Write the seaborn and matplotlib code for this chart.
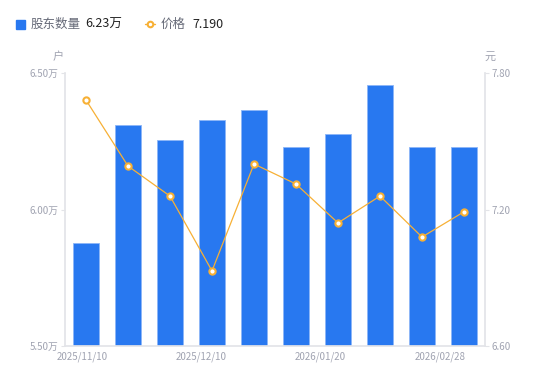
import numpy as np
import pandas as pd
import matplotlib
matplotlib.use("Agg")
import matplotlib.pyplot as plt
import seaborn as sns
from matplotlib.lines import Line2D

dates = ["2025/11/10", "2025/11/20", "2025/11/28", "2025/12/10", "2025/12/19",
         "2025/12/31", "2026/01/20", "2026/01/30", "2026/02/10", "2026/02/28"]
holders = [5.877, 6.310, 6.255, 6.328, 6.364, 6.229, 6.277, 6.456, 6.229, 6.229]  # 万户
price = [7.681, 7.391, 7.259, 6.930, 7.400, 7.312, 7.141, 7.259, 7.079, 7.190]
shown_dates = ["2025/11/10", "2025/12/10", "2026/01/20", "2026/02/28"]

df = pd.DataFrame({"date": dates, "holders": holders, "price": price})

sns.set_theme(style="white")
plt.rcParams["font.family"] = ["Noto Sans CJK SC", "DejaVu Sans"]

blue = "#2878F0"
orange = "#F7B035"
grey = "#A0A3B1"
axis_col = "#E3E4E8"

fig = plt.figure(figsize=(5.5, 3.81), dpi=100)
ax1 = fig.add_axes([65 / 550, 35 / 381, 420 / 550, 273 / 381])

sns.barplot(data=df, x="date", y="holders", color=blue, width=0.6,
            edgecolor="#8DB6F7", linewidth=0.6, saturation=1, ax=ax1)
ax1.set_ylim(5.5, 6.5)
ax1.set_xlim(-0.5, len(dates) - 0.5)

ax2 = ax1.twinx()
sns.lineplot(x=np.arange(len(price)), y=price, color=orange, linewidth=0.9,
             marker="o", markersize=4.5, markerfacecolor="white",
             markeredgecolor=orange, markeredgewidth=1.5, ax=ax2)
ax2.set_ylim(6.6, 7.8)

ax1.set_yticks([5.5, 6.0, 6.5])
ax1.set_yticklabels([f"{v:.2f}万" for v in [5.5, 6.0, 6.5]])
ax2.set_yticks([6.6, 7.2, 7.8])
ax2.set_yticklabels([f"{v:.2f}" for v in [6.6, 7.2, 7.8]])

ax1.set_xticks(np.linspace(-0.1, 8.43, len(shown_dates)))
ax1.set_xticklabels(shown_dates)

for ax in (ax1, ax2):
    ax.set_xlabel("")
    ax.set_ylabel("")
    ax.grid(False)
    for s in ax.spines.values():
        s.set_visible(False)
    ax.tick_params(axis="y", colors=axis_col, labelcolor=grey, labelsize=7,
                   length=3, width=0.8, pad=2)
ax1.spines["left"].set_visible(True)
ax1.spines["left"].set_color(axis_col)
ax1.spines["bottom"].set_visible(True)
ax1.spines["bottom"].set_color(axis_col)
ax2.spines["right"].set_visible(True)
ax2.spines["right"].set_color(axis_col)
ax1.tick_params(axis="x", length=0, labelcolor=grey, labelsize=7, pad=4)

fig.text(58 / 550, 1 - 57 / 381, "户", color=grey, fontsize=8, ha="center", va="center")
fig.text(490 / 550, 1 - 57 / 381, "元", color=grey, fontsize=8, ha="center", va="center")

# legend
sq = plt.Rectangle((16 / 550, 1 - 29 / 381), 9 / 550, 9 / 381, color=blue,
                   transform=fig.transFigure, figure=fig)
fig.patches.append(sq)
fig.text(31 / 550, 1 - 24 / 381, "股东数量", color="#666A78", fontsize=9, va="center")
fig.text(85 / 550, 1 - 24 / 381, f"{holders[-1]:.2f}万", color="#222222", fontsize=9, va="center")
fig.add_artist(Line2D([145 / 550, 155 / 550], [1 - 24 / 381] * 2, color=orange,
                      linewidth=1, transform=fig.transFigure))
fig.add_artist(Line2D([150 / 550], [1 - 24 / 381], marker="o", markersize=4,
                      markerfacecolor="white", markeredgecolor=orange,
                      markeredgewidth=1.5, transform=fig.transFigure))
fig.text(161 / 550, 1 - 24 / 381, "价格", color="#666A78", fontsize=9, va="center")
fig.text(192 / 550, 1 - 24 / 381, f"{price[-1]:.3f}", color="#222222", fontsize=9, va="center")

fig.savefig("out.png", dpi=100)
